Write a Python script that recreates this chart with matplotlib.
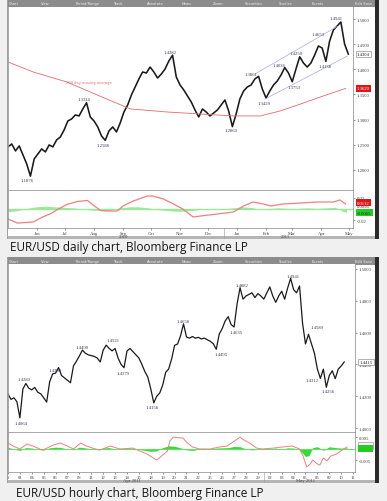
import matplotlib
matplotlib.use('Agg')
import matplotlib.pyplot as plt
import matplotlib.transforms as mtransforms
from matplotlib.patches import Rectangle
import numpy as np
import pandas as pd

W, H = 387, 502

# ---------------- daily chart data (closes every 4 days from 2010-05-15) ----------------
daily_start = pd.Timestamp('2010-05-15')
daily_close = [1.2457, 1.2516, 1.2377, 1.2476, 1.2298, 1.2119, 1.1876, 1.2218, 1.2317, 1.2417,
               1.2357, 1.2496, 1.2457, 1.2596, 1.2655, 1.2794, 1.2973, 1.3013, 1.3093, 1.3073,
               1.3212, 1.3334, 1.3053, 1.2973, 1.2854, 1.2675, 1.2588, 1.2775, 1.2854, 1.2755,
               1.2933, 1.3152, 1.3291, 1.3490, 1.3649, 1.3808, 1.3947, 1.3927, 1.4046, 1.3947,
               1.3828, 1.3907, 1.4007, 1.4165, 1.4282, 1.3848, 1.3689, 1.3589, 1.3470, 1.3351,
               1.3192, 1.3053, 1.3212, 1.3152, 1.3073, 1.3132, 1.3192, 1.3291, 1.3391, 1.3172,
               1.2860, 1.3112, 1.3410, 1.3569, 1.3649, 1.3689, 1.3808, 1.3861, 1.3609, 1.3429,
               1.3569, 1.3689, 1.3768, 1.3887, 1.4036, 1.3927, 1.3753, 1.4007, 1.4250, 1.4126,
               1.4046, 1.4126, 1.4285, 1.4464, 1.4424, 1.4158, 1.4563, 1.4781, 1.4861, 1.4941,
               1.4503, 1.4304]
ma200_day = [0, 27, 63, 98, 131, 170, 206, 241, 270, 291, 313, 334, 361]
ma200_val = [1.4146, 1.3947, 1.3748, 1.3470, 1.3212, 1.3152, 1.3112, 1.3073, 1.3073,
             1.3172, 1.3311, 1.3450, 1.3620]
chan_up_day, chan_up_val = [264, 353], [1.3907, 1.4861]
chan_lo_day, chan_lo_val = [275, 363], [1.3410, 1.4265]
daily_labels = [('1.4941', 351, 1.5020), ('1.4653', 332, 1.4702), ('1.4250', 308, 1.4324),
                ('1.4036', 290, 1.4086), ('1.4158', 339, 1.4066), ('1.3861', 260, 1.3907),
                ('1.3753', 306, 1.3649), ('1.3429', 274, 1.3331), ('1.4282', 173, 1.4344),
                ('1.3334', 81, 1.3410), ('1.2588', 102, 1.2496), ('1.2860', 239, 1.2794),
                ('1.1876', 21, 1.1801)]
daily_macd_day = [0, 10, 27, 37, 45, 54, 63, 74, 85, 91, 99, 106, 117, 123, 134, 149, 155,
                  166, 177, 187, 198, 206, 224, 241, 252, 262, 273, 281, 294, 313, 331, 348,
                  355, 361]
daily_macd_val = [-0.0182, -0.0255, -0.0236, -0.0145, -0.0091, 0.0000, 0.0082, 0.0136,
                  0.0155, 0.0073, -0.0027, -0.0036, -0.0036, 0.0055, 0.0145, 0.0236, 0.0236,
                  0.0182, 0.0091, 0.0000, -0.0145, -0.0127, -0.0091, -0.0055, 0.0055, 0.0127,
                  0.0091, 0.0055, 0.0091, 0.0109, 0.0127, 0.0127, 0.0164, 0.0091]
daily_hist_day = [0, 10, 20, 30, 40, 50, 60, 70, 80, 90, 100, 110, 120, 130, 140, 150, 160,
                  170, 180, 190, 200, 210, 220, 230, 240, 250, 260, 270, 280, 290, 300, 310,
                  320, 330, 340, 350, 358, 362]
daily_hist_val = [-0.005, -0.003, 0.001, 0.004, 0.005, 0.004, 0.003, 0.002, 0.000, -0.002,
                  -0.003, -0.002, 0.002, 0.004, 0.004, 0.002, -0.001, -0.003, -0.004, -0.004,
                  -0.002, 0.000, 0.001, 0.000, 0.002, 0.004, 0.003, -0.001, 0.001, 0.002,
                  0.001, 0.001, 0.002, 0.001, 0.002, 0.003, -0.004, -0.006]
daily_months = ['Jun', 'Jul', 'Aug', 'Sep', 'Oct', 'Nov', 'Dec', 'Jan', 'Feb', 'Mar', 'Apr', 'May']
daily_month_dates = ['2010-06-15', '2010-07-15', '2010-08-15', '2010-09-15', '2010-10-15',
                     '2010-11-15', '2010-12-15', '2011-01-15', '2011-02-15', '2011-03-15',
                     '2011-04-15', '2011-05-15']
daily_years = [('2010', '2010-09-15'), ('2011', '2011-03-08')]

# ---------------- hourly chart data (closes every 6 hours, trading days from Mar 31) ----------------
hourly_close = [1.4214, 1.4180, 1.4190, 1.4165, 1.4064, 1.4245, 1.4280, 1.4250, 1.4240, 1.4255,
                1.4225, 1.4215, 1.4190, 1.4163, 1.4290, 1.4340, 1.4345, 1.4380, 1.4330, 1.4315,
                1.4300, 1.4285, 1.4390, 1.4420, 1.4453, 1.4490, 1.4470, 1.4460, 1.4455, 1.4450,
                1.4440, 1.4415, 1.4490, 1.4521, 1.4500, 1.4485, 1.4500, 1.4440, 1.4400, 1.4379,
                1.4484, 1.4500, 1.4480, 1.4460, 1.4440, 1.4400, 1.4355, 1.4320, 1.4245, 1.4158,
                1.4200, 1.4220, 1.4270, 1.4350, 1.4371, 1.4434, 1.4520, 1.4528, 1.4580, 1.4655,
                1.4572, 1.4565, 1.4575, 1.4565, 1.4570, 1.4560, 1.4565, 1.4555, 1.4545, 1.4530,
                1.4495, 1.4590, 1.4625, 1.4673, 1.4700, 1.4650, 1.4635, 1.4780, 1.4882, 1.4810,
                1.4830, 1.4840, 1.4850, 1.4820, 1.4845, 1.4830, 1.4810, 1.4850, 1.4887, 1.4830,
                1.4790, 1.4830, 1.4860, 1.4810, 1.4880, 1.4941, 1.4870, 1.4850, 1.4893, 1.4660,
                1.4528, 1.4589, 1.4530, 1.4470, 1.4370, 1.4312, 1.4370, 1.4256, 1.4330, 1.4360,
                1.4310, 1.4370, 1.4390, 1.4415]
hourly_labels = [('1.4064', 1.09, 1.4031), ('1.4280', 1.34, 1.4308), ('1.4380', 3.95, 1.4365),
                 ('1.4490', 6.22, 1.4509), ('1.4521', 8.8, 1.4553), ('1.4379', 9.7, 1.4346),
                 ('1.4158', 12.1, 1.4132), ('1.4658', 14.7, 1.4673), ('1.4495', 17.9, 1.4465),
                 ('1.4635', 19.2, 1.4604), ('1.4882', 19.7, 1.4899), ('1.4941', 23.95, 1.4956),
                 ('1.4589', 26.0, 1.4635), ('1.4312', 25.6, 1.4302), ('1.4256', 26.9, 1.4233)]
hourly_macd_day = [0, 0.42, 1.0, 1.6, 2.1, 2.9, 3.8, 4.4, 5.0, 5.5, 6.1, 6.6, 7.1, 7.7, 8.6,
                   9.4, 10.5, 11.1, 11.7, 12.2, 12.5, 12.8, 13.4, 13.6, 13.9, 14.5, 14.7, 15.0,
                   15.5, 16.1, 17.0, 17.8, 18.4, 18.9, 19.5, 19.7, 20.3, 20.9, 21.4, 22.3, 23.1,
                   23.9, 24.5, 24.8, 25.1, 25.4, 25.6, 26.0, 26.2, 26.5, 26.8, 27.1, 27.6, 28.2,
                   28.5]
hourly_macd_val = [0.0024, 0.0011, -0.0002, 0.0020, 0.0011, -0.0007, 0.0015, 0.0024, 0.0011,
                   -0.0002, 0.0024, 0.0011, 0.0002, -0.0007, 0.0011, -0.0002, 0.0002, -0.0011,
                   -0.0024, -0.0041, -0.0050, -0.0037, -0.0011, 0.0033, 0.0050, 0.0046, 0.0046,
                   0.0028, 0.0007, -0.0002, -0.0002, 0.0007, 0.0011, 0.0028, 0.0050, 0.0041,
                   0.0024, 0.0002, -0.0002, 0.0002, 0.0007, 0.0011, -0.0002, -0.0033, -0.0080,
                   -0.0067, -0.0050, -0.0067, -0.0072, -0.0041, -0.0054, -0.0033, -0.0024,
                   -0.0002, 0.0007]
hourly_hist_day = [0, 0.5, 1.0, 1.5, 2, 2.5, 3, 3.5, 4, 4.5, 5, 5.5, 6, 6.5, 7, 7.5, 8, 8.5, 9,
                   9.5, 10, 10.5, 11, 11.5, 12, 12.5, 13, 13.5, 14, 14.5, 15, 15.5, 16, 16.5,
                   17, 17.5, 18, 18.5, 19, 19.5, 20, 20.5, 21, 21.5, 22, 22.5, 23, 23.5, 24,
                   24.5, 25, 25.3, 25.6, 26, 26.5, 27, 27.5, 28, 28.5]
hourly_hist_val = [0.0006, -0.0003, -0.0008, 0.0004, 0.0002, -0.0004, -0.0006, 0.0003, 0.0006,
                   0.0004, -0.0002, -0.0005, 0.0006, 0.0003, -0.0002, -0.0004, 0.0002, 0.0004,
                   -0.0002, -0.0003, 0.0002, 0.0001, -0.0004, -0.0008, -0.0012, -0.0010,
                   0.0004, 0.0012, 0.0010, 0.0003, -0.0006, -0.0008, -0.0003, 0.0001, -0.0002,
                   0.0002, 0.0003, 0.0004, 0.0009, 0.0008, -0.0002, -0.0006, -0.0003, 0.0001,
                   -0.0002, 0.0002, -0.0004, 0.0003, 0.0002, -0.0005, -0.0035, -0.0030,
                   0.0004, 0.0008, -0.0008, 0.0008, 0.0004, 0.0002, 0.0003]
hourly_days = ['1', '01', '04', '05', '06', '07', '08', '11', '12', '13', '14', '15', '18',
               '19', '20', '21', '22', '25', '26', '27', '28', '29', '02', '03', '04', '05',
               '06', '09', '10', '11']
hourly_months = [('Apr 2011', 10.4), ('May 2011', 25.0)]

toolbar_items = [('Chart', 14), ('View', 45), ('Period/Range', 88), ('Track', 118),
                 ('Annotate', 155), ('News', 187), ('Zoom', 218), ('Securities', 254),
                 ('Studies', 286), ('Events', 318), ('Edit Save', 364)]

SERIF = 'Liberation Serif'
LBL = 3.4


def px_axes(fig, left, top, right, bottom):
    return fig.add_axes([left / W, 1 - bottom / H, (right - left) / W, (bottom - top) / H])


def style_axes(ax):
    ax.set_facecolor('white')
    for s in ax.spines.values():
        s.set_color('#9a9a9a')
        s.set_linewidth(0.6)
    ax.spines['top'].set_visible(False)
    ax.yaxis.tick_right()
    ax.tick_params(axis='both', length=1.5, width=0.4, pad=1, labelsize=LBL,
                   colors='#444444', labelfontfamily=SERIF)


def tag(ax, y, text, fc, tc, ec='none'):
    tr = mtransforms.blended_transform_factory(ax.transAxes, ax.transData)
    ax.text(1.012, y, text, transform=tr, fontsize=LBL, family=SERIF, color=tc,
            va='center', ha='left', clip_on=False, zorder=5,
            bbox=dict(boxstyle='square,pad=0.3', fc=fc, ec=ec, lw=0.4))


def panel_frame(bg, top, bottom):
    bg.add_patch(Rectangle((7, top), 369, bottom - top, fc='white', ec='none', zorder=0))
    bg.add_patch(Rectangle((7, top), 369, 8, fc='#8c8c8c', ec='none', zorder=1))
    bg.add_patch(Rectangle((7, bottom - 3), 369, 3, fc='#b5b5b5', ec='none', zorder=1))
    bg.add_patch(Rectangle((6.5, top), 1, bottom - top, fc='#a0a0a0', ec='none', zorder=1))
    bg.add_patch(Rectangle((375, top), 4, bottom - top, fc='#2b2b2b', ec='none', zorder=1))
    for name, x in toolbar_items:
        bg.text(x, top + 4, name, fontsize=2.6, color='#eeeeee', ha='center', va='center',
                zorder=2)


def main():
    fig = plt.figure(figsize=(W / 100, H / 100), dpi=100)
    fig.patch.set_facecolor('#f0f0f0')
    bg = fig.add_axes([0, 0, 1, 1])
    bg.set_xlim(0, W)
    bg.set_ylim(H, 0)
    bg.axis('off')
    panel_frame(bg, 0, 240)
    panel_frame(bg, 258, 484)
    bg.text(10, 248, 'EUR/USD daily chart, Bloomberg Finance LP', fontsize=8.5,
            family='Open Sans', color='#151515', va='center', ha='left')
    bg.text(16, 494, 'EUR/USD hourly chart, Bloomberg Finance LP', fontsize=8.5,
            family='Open Sans', color='#151515', va='center', ha='left')

    # ---------- daily price ----------
    ax1 = px_axes(fig, 8, 8, 353, 191)
    style_axes(ax1)
    ax1.plot(np.arange(len(daily_close)) * 4, daily_close, color='#1a1a1a', lw=1.15)
    ax1.plot(ma200_day, ma200_val, color='#e36a6a', lw=0.6)
    ax1.plot(chan_up_day, chan_up_val, color='#a9a9e0', lw=0.5)
    ax1.plot(chan_lo_day, chan_lo_val, color='#a9a9e0', lw=0.5)
    for text, d, p in daily_labels:
        ax1.text(d, p, text, fontsize=LBL, family=SERIF, color='#3a3a55',
                 ha='center', va='center')
    ax1.text(86, 1.3748, '200 day moving average', fontsize=2.6, color='#e36a6a',
             ha='center', va='center')
    ax1.set_xlim(0, 369)
    ax1.set_ylim(1.160, 1.524)
    yt = [1.20, 1.25, 1.30, 1.35, 1.40, 1.45, 1.50]
    ax1.set_yticks(yt, [f'{v:.4f}' for v in yt])
    ax1.set_xticks([])
    tag(ax1, daily_close[-1], f'{daily_close[-1]:.4f}', 'white', '#222222', ec='#777777')
    tag(ax1, ma200_val[-1], f'{ma200_val[-1]:.4f}', '#e01515', 'white')

    # ---------- daily oscillator ----------
    ax2 = px_axes(fig, 8, 191, 353, 229)
    style_axes(ax2)
    ax2.spines['top'].set_visible(True)
    ax2.fill_between(daily_hist_day, 0, daily_hist_val, color='#9be89b', lw=0)
    ax2.axhline(0, color='#9be89b', lw=1.0)
    ax2.plot(daily_macd_day, daily_macd_val, color='#ee8080', lw=0.9)
    ax2.set_xlim(0, 369)
    ax2.set_ylim(-0.0345, 0.0345)
    ax2.set_yticks([-0.02, 0.02], ['-0.02', '0.02'])
    mpos = [(pd.Timestamp(d) - daily_start).days for d in daily_month_dates]
    ax2.set_xticks(mpos, daily_months)
    tr2 = mtransforms.blended_transform_factory(ax2.transData, ax2.transAxes)
    for yr, d in daily_years:
        ax2.text((pd.Timestamp(d) - daily_start).days, -0.21, yr, transform=tr2,
                 fontsize=LBL, family=SERIF, color='#444444', ha='center', va='center')
    jan = (pd.Timestamp('2011-01-01') - daily_start).days
    ax2.plot([jan, jan], [0, -0.25], transform=tr2, color='#9a9a9a', lw=0.4, clip_on=False)
    tag(ax2, 0.0112, '0.0112', '#e01515', 'white')
    ax2.text(1.012, 0.0056, '0.0056', transform=mtransforms.blended_transform_factory(
        ax2.transAxes, ax2.transData), fontsize=LBL, family=SERIF, color='#333333',
        va='center', clip_on=False)
    tag(ax2, -0.0065, '-0.0065', '#22cc22', '#113311')

    # ---------- hourly price ----------
    ax3 = px_axes(fig, 8, 265, 355, 433)
    style_axes(ax3)
    ax3.plot(np.arange(len(hourly_close)) * 0.25, hourly_close, color='#1a1a1a', lw=0.9)
    for text, d, p in hourly_labels:
        ax3.text(d, p, text, fontsize=LBL, family=SERIF, color='#3a3a55',
                 ha='center', va='center')
    ax3.set_xlim(0, 29.16)
    ax3.set_ylim(1.3975, 1.5031)
    yt = [1.40, 1.42, 1.44, 1.46, 1.48, 1.50]
    ax3.set_yticks(yt, [f'{v:.4f}' for v in yt])
    ax3.set_xticks([])
    tag(ax3, hourly_close[-1], f'{hourly_close[-1]:.4f}', 'white', '#222222', ec='#777777')

    # ---------- hourly oscillator ----------
    ax4 = px_axes(fig, 8, 433, 355, 473)
    style_axes(ax4)
    ax4.spines['top'].set_visible(True)
    ax4.fill_between(hourly_hist_day, 0, hourly_hist_val, color='#33dd33', lw=0)
    ax4.axhline(0, color='#66e066', lw=0.8)
    ax4.plot(hourly_macd_day, hourly_macd_val, color='#ee8080', lw=0.7)
    ax4.set_xlim(0, 29.16)
    ax4.set_ylim(-0.0102, 0.0072)
    ax4.set_yticks([-0.005, 0.005], ['-0.005', '0.005'])
    ax4.set_xticks(np.arange(len(hourly_days)), hourly_days)
    tr4 = mtransforms.blended_transform_factory(ax4.transData, ax4.transAxes)
    for name, d in hourly_months:
        ax4.text(d, -0.2, name, transform=tr4, fontsize=LBL, family=SERIF,
                 color='#444444', ha='center', va='center')
    ax4.plot([21.5, 21.5], [0, -0.25], transform=tr4, color='#9a9a9a', lw=0.4,
             clip_on=False)
    tag(ax4, 0.0012, '0.0012', 'white', '#222222', ec='#777777')
    tag(ax4, 0.0001, '0.0001', '#22cc22', '#22cc22')

    fig.savefig('out.png', dpi=100, facecolor=fig.get_facecolor())


if __name__ == '__main__':
    main()
